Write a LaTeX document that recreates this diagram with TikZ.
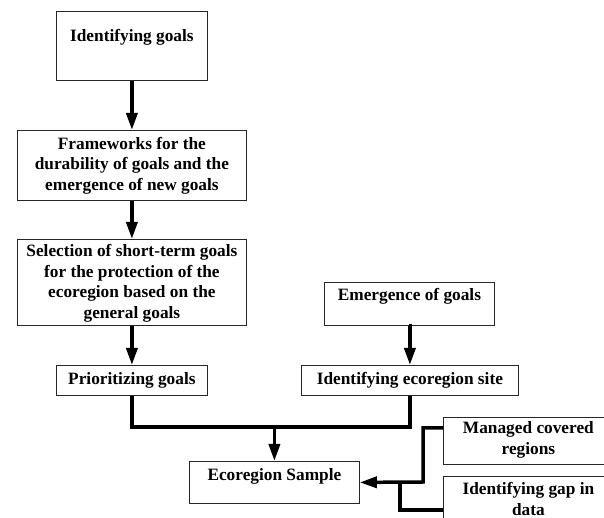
\documentclass[tikz,border=0pt]{standalone}
\usepackage{fontspec}
\setmainfont{Liberation Serif}
\usetikzlibrary{arrows.meta,calc}
\begin{document}
\begin{tikzpicture}[x=1pt,y=1pt,
  box/.style={draw=black!85, line width=0.8pt, rectangle, anchor=north west, inner sep=0pt},
  txt/.style={font=\fontsize{17.3}{20.5}\selectfont\bfseries, align=center, inner sep=0pt},
  conn/.style={line width=3.5pt},
  arr/.style={line width=3.5pt, -{Triangle[length=17pt,width=11pt]}}]
\useasboundingbox (0,0) rectangle (604,518);
% left column
\node[box, minimum width=151, minimum height=69] (b1) at (56,507) {};
\node[txt] (t1) at ($(b1.north)+(0,-26)$) {Identifying goals};
\node[box, minimum width=229, minimum height=70] (b2) at (17,388) {};
\node[txt] (t2) at (b2.center) {Frameworks for the\\durability of goals and the\\emergence of new goals};
\node[box, minimum width=229, minimum height=86] (b3) at (17,279) {};
\node[txt] (t3) at ($(b3.center)+(0,-1)$) {Selection of short-term goals\\for the protection of the\\ecoregion based on the\\general goals};
\node[box, minimum width=151, minimum height=30] (b4) at (56,153) {};
\node[txt] (t4) at (b4.center) {Prioritizing goals};
% right column
\node[box, minimum width=170, minimum height=43] (e1) at (324,236) {};
\node[txt] (te1) at ($(e1.north)+(0,-14)$) {Emergence of goals};
\node[box, minimum width=217, minimum height=30] (e2) at (301,153) {};
\node[txt] (te2) at (e2.center) {Identifying ecoregion site};
% bottom
\node[box, minimum width=170, minimum height=42] (s) at (189,57) {};
\node[txt] (ts) at ($(s.north)+(0,-15)$) {Ecoregion Sample};
\node[box, minimum width=170, minimum height=47] (m) at (443,101) {};
\node[txt] (tm) at ($(m.center)+(0,1)$) {Managed covered\\regions};
\node[box, minimum width=170, minimum height=52] (g) at (443,42) {};
\node[txt] (tg) at ($(g.north)+(0,-23)$) {Identifying gap in\\data};
% connectors
\draw[arr] (b1.south) -- (b2.north);
\draw[arr] (b2.south) -- (b3.north);
\draw[arr] (b3.south) -- (b4.north);
\draw[arr] (e1.south) -- (e2.south |- e1.south) -- (e2.north);
\coordinate (j) at (s.north |- 0,91);
\coordinate (jl) at (b4.south |- j);
\coordinate (jr) at (e2.south |- j);
\draw[conn] (b4.south) -- (jl) -- (jr) -- (e2.south);
\draw[arr] (j) -- (s.north);
\coordinate (mw) at (m.west |- 0,90);
\coordinate (k) at (423,36);
\draw[arr, line join=miter] (mw) -| (k) -- (s.east);
\coordinate (gw) at (g.west |- 0,8);
\coordinate (k2) at (400,36);
\draw[conn, line join=miter] (gw) -| (k2);
\end{tikzpicture}
\end{document}
